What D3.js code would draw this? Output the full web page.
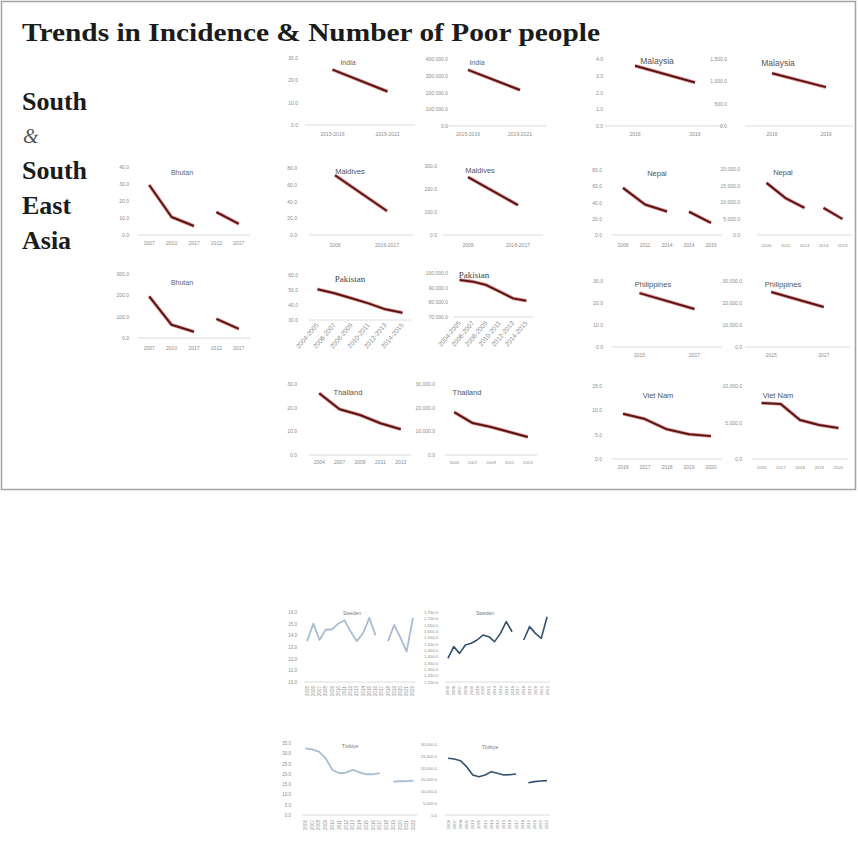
<!DOCTYPE html>
<html>
<head>
<meta charset="utf-8">
<script src="https://cdn.jsdelivr.net/npm/d3@7"></script>
<style>
  body { margin: 0; background: #fff; }
  svg { display: block; }
</style>
</head>
<body>
<script>
// ---- Headings ----
const titleText = "Trends in Incidence & Number of Poor people";
const regionWords = ["South", "&", "South", "East", "Asia"];

// ---- India ----
const indiaYears = ["2015-2016", "2019-2021"];
const indiaIncidence = [24.8, 15.0];
const indiaPoor = [335000, 215000];
const indiaIncidenceTicks = [0, 10, 20, 30];
const indiaPoorTicks = [0, 100000, 200000, 300000, 400000];

// ---- Malaysia ----
const malaysiaYears = ["2016", "2019"];
const malaysiaIncidence = [3.6, 2.6];
const malaysiaPoor = [1180, 870];
const malaysiaIncidenceTicks = [0, 1, 2, 3, 4];
const malaysiaPoorTicks = [0, 500, 1000, 1500];

// ---- Bhutan (two survey series) ----
const bhutanYears = ["2007", "2010", "2017", "2012", "2017"];
const bhutanIncidenceA = [29.4, 10.6, 5.3, null, null];
const bhutanIncidenceB = [null, null, null, 13.5, 6.5];
const bhutanPoorA = [195, 62, 29, null, null];
const bhutanPoorB = [null, null, null, 90, 43];
const bhutanIncidenceTicks = [0, 10, 20, 30, 40];
const bhutanPoorTicks = [0, 100, 200, 300];

// ---- Maldives ----
const maldivesYears = ["2009", "2016-2017"];
const maldivesIncidence = [71.4, 28.6];
const maldivesPoor = [252, 130];
const maldivesIncidenceTicks = [0, 20, 40, 60, 80];
const maldivesPoorTicks = [0, 100, 200, 300];

// ---- Nepal (two survey series) ----
const nepalYears = ["2006", "2011", "2014", "2014", "2019"];
const nepalIncidenceA = [58.0, 37.5, 29.0, null, null];
const nepalIncidenceB = [null, null, null, 28.6, 14.8];
const nepalPoorA = [15800, 11200, 8200, null, null];
const nepalPoorB = [null, null, null, 8200, 4850];
const nepalIncidenceTicks = [0, 20, 40, 60, 80];
const nepalPoorTicks = [0, 5000, 10000, 15000, 20000];

// ---- Pakistan ----
const pakistanYears = ["2004-2005", "2006-2007", "2008-2009", "2010-2011", "2012-2013", "2014-2015"];
const pakistanIncidence = [50.5, 47.8, 44.5, 41.1, 37.1, 34.9];
const pakistanPoor = [95200, 94100, 91800, 87300, 82700, 81100];
const pakistanIncidenceTicks = [30, 40, 50, 60];
const pakistanPoorTicks = [70000, 80000, 90000, 100000];

// ---- Philippines ----
const philippinesYears = ["2015", "2017"];
const philippinesIncidence = [24.5, 17.3];
const philippinesPoor = [25000, 18200];
const philippinesIncidenceTicks = [0, 10, 20, 30];
const philippinesPoorTicks = [0, 10000, 20000, 30000];

// ---- Thailand ----
const thailandYears = ["2004", "2007", "2009", "2011", "2013"];
const thailandIncidence = [26.1, 19.3, 16.9, 13.4, 10.9];
const thailandPoor = [18100, 13500, 11800, 9700, 7600];
const thailandIncidenceTicks = [0, 10, 20, 30];
const thailandPoorTicks = [0, 10000, 20000, 30000];

// ---- Viet Nam ----
const vietnamYears = ["2016", "2017", "2018", "2019", "2020"];
const vietnamIncidence = [9.3, 8.2, 6.1, 5.1, 4.7];
const vietnamPoor = [7670, 7530, 5340, 4660, 4250];
const vietnamIncidenceTicks = [0, 5, 10, 15];
const vietnamPoorTicks = [0, 5000, 10000];

// ---- Sweden ----
const swedenYears = ["2005", "2006", "2007", "2008", "2009", "2010", "2011", "2012", "2013",
                     "2014", "2015", "2016", "2017", "2018", "2019", "2020", "2021", "2022"];
const swedenIncidence = [13.5, 15.0, 13.6, 14.5, 14.5, 15.0, 15.3, 14.3, 13.5,
                         14.2, 15.5, 14.0, null, 13.5, 14.9, 13.8, 12.6, 15.5];
const swedenPoor = [1386, 1478, 1425, 1491, 1504, 1530, 1569, 1556, 1517,
                    1582, 1674, 1595, null, 1530, 1635, 1582, 1543, 1713];
const swedenIncidenceTicks = [10, 11, 12, 13, 14, 15, 16];
const swedenPoorTicks = [1200, 1250, 1300, 1350, 1400, 1450, 1500, 1550, 1600, 1650, 1700, 1750];

// ---- Türkiye ----
const turkiyeYears = ["2006", "2007", "2008", "2009", "2010", "2011", "2012", "2013", "2014",
                      "2015", "2016", "2017", "2018", "2019", "2020", "2021", "2022"];
const turkiyeIncidence = [32.4, 31.9, 30.8, 27.5, 21.9, 20.3, 20.6, 21.9, 20.7,
                          19.8, 19.8, 20.4, null, 16.2, 16.4, 16.5, 16.7];
const turkiyePoor = [23960, 23660, 22960, 20420, 16900, 16200, 16900, 18310, 17610,
                     16900, 17040, 17330, null, 13660, 14090, 14370, 14510];
const turkiyeIncidenceTicks = [0, 5, 10, 15, 20, 25, 30, 35];
const turkiyePoorTicks = [0, 5000, 10000, 15000, 20000, 25000, 30000];

// ================= drawing =================
const W = 858, H = 843;
const svg = d3.select("body").append("svg").attr("width", W).attr("height", H);
const SANS = "'Liberation Sans', Arial, sans-serif";
const SERIF = "'Liberation Serif', 'Times New Roman', serif";

// frame around the Asia section
svg.append("rect")
  .attr("x", 1.5).attr("y", 1.5).attr("width", 854).attr("height", 488)
  .attr("fill", "none").attr("stroke", "#a3a3a3").attr("stroke-width", 1.5);

svg.append("text")
  .attr("x", 22).attr("y", 41)
  .attr("textLength", 578).attr("lengthAdjust", "spacingAndGlyphs")
  .style("font", `bold 26px ${SERIF}`).attr("fill", "#1b1b1b")
  .text(titleText);

const wordY = [110, 143, 179, 214, 249];
regionWords.forEach((w, i) => {
  const amp = w === "&";
  svg.append("text")
    .attr("x", amp ? 23 : 22).attr("y", wordY[i])
    .style("font", amp ? `italic 20px ${SERIF}` : `bold 26px ${SERIF}`)
    .attr("fill", amp ? "#555" : "#1b1b1b")
    .text(w);
});

const styles = {
  asia:  { under: "#c84a4a", underW: 3.6, under0: 0.55, main: "#5c1515", mainW: 2 },
  light: { main: "#a9bdd2", mainW: 1.8 },
  dark:  { main: "#34506f", mainW: 1.6 }
};

function panel(p) {
  const g = svg.append("g");
  const tickFont = p.tickFont || `5px ${SANS}`;
  const y = d3.scaleLinear().domain([p.ticks[0], p.ticks[p.ticks.length - 1]]).range([p.y0, p.y1]);
  const x = d3.scaleBand().domain(d3.range(p.cats.length)).range(p.px);
  const cx = i => x(i) + x.bandwidth() / 2;

  // value labels on the left
  g.append("g")
    .attr("transform", `translate(${p.lx},0)`)
    .call(d3.axisLeft(y).tickValues(p.ticks).tickFormat(d3.format(p.fmt)).tickSize(0).tickPadding(0))
    .call(s => s.select(".domain").remove())
    .selectAll("text").attr("fill", "#8c8c8c").style("font", tickFont);

  // category baseline
  g.append("line")
    .attr("x1", p.px[0]).attr("x2", p.px[1]).attr("y1", p.y0).attr("y2", p.y0)
    .attr("stroke", "#dcdcdc").attr("stroke-width", 1);

  // category labels
  const xa = g.append("g")
    .attr("transform", `translate(0,${p.xly})`)
    .call(d3.axisBottom(x).tickFormat(i => p.cats[i]).tickSize(0).tickPadding(0));
  xa.select(".domain").remove();
  const xt = xa.selectAll("text").attr("fill", "#8c8c8c").style("font", p.xFont || tickFont);
  if (p.rotate === "diag") {
    xt.attr("text-anchor", "end").attr("dy", "0.3em").attr("transform", "rotate(-50)");
  } else if (p.rotate === "vert") {
    xt.attr("text-anchor", "end").attr("dy", "0.35em").attr("x", 0).attr("y", 0).attr("transform", "rotate(-90)");
  } else {
    xt.attr("dy", "0.35em");
  }

  // series lines
  const st = styles[p.style || "asia"];
  const line = d3.line().defined(d => d != null).x((d, i) => cx(i)).y(d => y(d));
  p.series.forEach(s => {
    if (st.under) {
      g.append("path").datum(s).attr("d", line).attr("fill", "none")
        .attr("stroke", st.under).attr("stroke-width", st.underW).attr("stroke-opacity", st.under0)
        .attr("stroke-linejoin", "round");
    }
    g.append("path").datum(s).attr("d", line).attr("fill", "none")
      .attr("stroke", st.main).attr("stroke-width", st.mainW).attr("stroke-linejoin", "round");
  });

  // chart title
  g.append("text")
    .attr("x", p.tx).attr("y", p.ty).attr("text-anchor", "middle").attr("dy", "0.35em")
    .style("font", p.titleFont || `7px ${SANS}`).attr("fill", p.titleColor || "#666")
    .text(p.title);
}

const BIG = `8.5px ${SANS}`;
const PK = `9px ${SERIF}`;
const SMALL = `5px ${SANS}`;

const panels = [
  // row 1
  { cats: indiaYears, series: [indiaIncidence], ticks: indiaIncidenceTicks, fmt: ".1f",
    lx: 298, px: [305, 415], y0: 125, y1: 58, xly: 134, title: "India", tx: 348, ty: 63 },
  { cats: indiaYears, series: [indiaPoor], ticks: indiaPoorTicks, fmt: ",.1f",
    lx: 448, px: [442, 546], y0: 126, y1: 59, xly: 134, title: "India", tx: 477, ty: 63 },
  { cats: malaysiaYears, series: [malaysiaIncidence], ticks: malaysiaIncidenceTicks, fmt: ".1f",
    lx: 603, px: [605, 725], y0: 126, y1: 59, xly: 134, title: "Malaysia", tx: 657, ty: 61,
    titleFont: BIG, titleColor: "#555" },
  { cats: malaysiaYears, series: [malaysiaPoor], ticks: malaysiaPoorTicks, fmt: ",.1f",
    lx: 727, px: [745, 853], y0: 126, y1: 59, xly: 134, title: "Malaysia", tx: 778, ty: 63,
    titleFont: BIG, titleColor: "#555" },
  // row 2
  { cats: bhutanYears, series: [bhutanIncidenceA, bhutanIncidenceB], ticks: bhutanIncidenceTicks, fmt: ".1f",
    lx: 129, px: [138, 250], y0: 235, y1: 167, xly: 243, title: "Bhutan", tx: 182, ty: 173 },
  { cats: maldivesYears, series: [maldivesIncidence], ticks: maldivesIncidenceTicks, fmt: ".1f",
    lx: 297, px: [309, 413], y0: 235, y1: 168, xly: 245, title: "Maldives", tx: 350, ty: 171,
    titleFont: `7.5px ${SANS}`, titleColor: "#555" },
  { cats: maldivesYears, series: [maldivesPoor], ticks: maldivesPoorTicks, fmt: ".1f",
    lx: 437, px: [443, 543], y0: 235, y1: 166, xly: 245, title: "Maldives", tx: 480, ty: 170,
    titleFont: `7.5px ${SANS}`, titleColor: "#555" },
  { cats: nepalYears, series: [nepalIncidenceA, nepalIncidenceB], ticks: nepalIncidenceTicks, fmt: ".1f",
    lx: 602, px: [612, 722], y0: 235, y1: 170, xly: 245, title: "Nepal", tx: 657, ty: 173,
    titleFont: `7.5px ${SANS}`, titleColor: "#555" },
  { cats: nepalYears, series: [nepalPoorA, nepalPoorB], ticks: nepalPoorTicks, fmt: ",.1f",
    lx: 740, px: [757, 852], y0: 235, y1: 169, xly: 245, title: "Nepal", tx: 783, ty: 172,
    titleFont: `7.5px ${SANS}`, titleColor: "#555", xFont: `4.3px ${SANS}` },
  // Bhutan number of poor
  { cats: bhutanYears, series: [bhutanPoorA, bhutanPoorB], ticks: bhutanPoorTicks, fmt: ".1f",
    lx: 129, px: [138, 250], y0: 338, y1: 274, xly: 348, title: "Bhutan", tx: 182, ty: 283 },
  // row 3
  { cats: pakistanYears, series: [pakistanIncidence], ticks: pakistanIncidenceTicks, fmt: ".1f",
    lx: 298, px: [309, 411], y0: 320, y1: 275, xly: 324, rotate: "diag", xFont: `6.5px ${SANS}`,
    title: "Pakistan", tx: 350, ty: 279, titleFont: PK, titleColor: "#444" },
  { cats: pakistanYears, series: [pakistanPoor], ticks: pakistanPoorTicks, fmt: ",.1f",
    lx: 448, px: [453, 533], y0: 317, y1: 273, xly: 322, rotate: "diag", xFont: `6.5px ${SANS}`,
    title: "Pakistan", tx: 474, ty: 275, titleFont: PK, titleColor: "#444" },
  { cats: philippinesYears, series: [philippinesIncidence], ticks: philippinesIncidenceTicks, fmt: ".1f",
    lx: 603, px: [612, 722], y0: 347, y1: 281, xly: 355, title: "Philippines", tx: 653, ty: 284,
    titleFont: `7.5px ${SANS}`, titleColor: "#555" },
  { cats: philippinesYears, series: [philippinesPoor], ticks: philippinesPoorTicks, fmt: ",.1f",
    lx: 742, px: [745, 850], y0: 347, y1: 281, xly: 355, title: "Philippines", tx: 783, ty: 284,
    titleFont: `7.5px ${SANS}`, titleColor: "#555" },
  // row 4
  { cats: thailandYears, series: [thailandIncidence], ticks: thailandIncidenceTicks, fmt: ".1f",
    lx: 297, px: [309, 411], y0: 455, y1: 384, xly: 462, title: "Thailand", tx: 348, ty: 392,
    titleFont: `7.5px ${SANS}`, titleColor: "#555" },
  { cats: thailandYears, series: [thailandPoor], ticks: thailandPoorTicks, fmt: ",.1f",
    lx: 435, px: [445, 537], y0: 455, y1: 384, xly: 462, title: "Thailand", tx: 467, ty: 392,
    titleFont: `7.5px ${SANS}`, titleColor: "#555", xFont: `4.3px ${SANS}` },
  { cats: vietnamYears, series: [vietnamIncidence], ticks: vietnamIncidenceTicks, fmt: ".1f",
    lx: 602, px: [612, 722], y0: 459, y1: 386, xly: 467, title: "Viet Nam", tx: 658, ty: 395,
    titleFont: `7.5px ${SANS}`, titleColor: "#555" },
  { cats: vietnamYears, series: [vietnamPoor], ticks: vietnamPoorTicks, fmt: ",.1f",
    lx: 742, px: [752, 848], y0: 459, y1: 386, xly: 467, title: "Viet Nam", tx: 778, ty: 395,
    titleFont: `7.5px ${SANS}`, titleColor: "#555", xFont: `4.3px ${SANS}` },
  // Sweden
  { cats: swedenYears, series: [swedenIncidence], ticks: swedenIncidenceTicks, fmt: ".1f",
    lx: 297, px: [304, 416], y0: 682, y1: 612, xly: 686, rotate: "vert", style: "light",
    title: "Sweden", tx: 352, ty: 613, titleFont: SMALL, titleColor: "#777", tickFont: `4.5px ${SANS}` },
  { cats: swedenYears, series: [swedenPoor], ticks: swedenPoorTicks, fmt: ",.1f",
    lx: 438, px: [445, 550], y0: 682, y1: 612, xly: 686, rotate: "vert", style: "dark",
    title: "Sweden", tx: 485, ty: 613, titleFont: SMALL, titleColor: "#777", tickFont: `4.2px ${SANS}` },
  // Türkiye
  { cats: turkiyeYears, series: [turkiyeIncidence], ticks: turkiyeIncidenceTicks, fmt: ".1f",
    lx: 291, px: [302, 417], y0: 815, y1: 743, xly: 820, rotate: "vert", style: "light",
    title: "Türkiye", tx: 350, ty: 746, titleFont: SMALL, titleColor: "#777", tickFont: `4.5px ${SANS}` },
  { cats: turkiyeYears, series: [turkiyePoor], ticks: turkiyePoorTicks, fmt: ",.1f",
    lx: 437, px: [445, 550], y0: 815, y1: 744, xly: 820, rotate: "vert", style: "dark",
    title: "Türkiye", tx: 490, ty: 747, titleFont: SMALL, titleColor: "#777", tickFont: `4.2px ${SANS}` }
];

panels.forEach(panel);
</script>
</body>
</html>
